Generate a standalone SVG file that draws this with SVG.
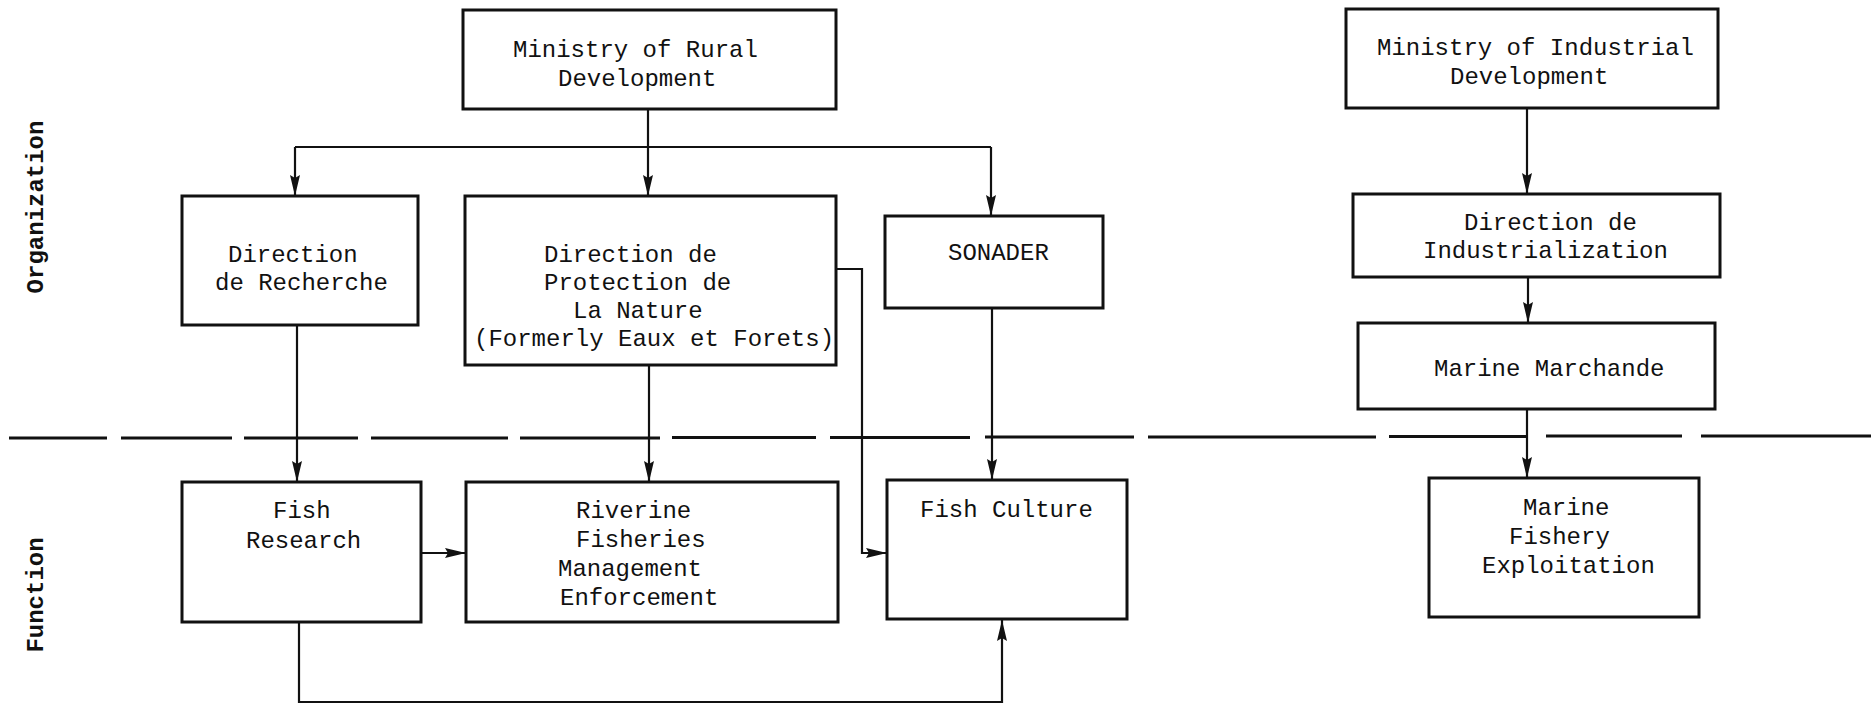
<svg xmlns="http://www.w3.org/2000/svg" width="1871" height="704" viewBox="0 0 1871 704">
  <style>
    .box { fill: #ffffff; stroke: #111111; stroke-width: 3; }
    .lbl { font-family: "Liberation Mono", "Courier New", monospace; font-size: 24px; fill: #111111; }
    .side { font-family: "Liberation Mono", "Courier New", monospace; font-size: 24px; font-weight: bold; fill: #111111; }
    .wire { fill: none; stroke: #111111; stroke-width: 2.2; }
    .dash { stroke: #111111; stroke-width: 3.2; }
  </style>
  <defs>
    <marker id="arrow" markerUnits="userSpaceOnUse" markerWidth="22" markerHeight="12" refX="21" refY="5" orient="auto">
      <path d="M0,0 L21,5 L0,10 L3,5 z" fill="#111111"/>
    </marker>
  </defs>
  <rect width="1871" height="704" fill="#ffffff"/>

  <!-- section labels -->
  <text class="side" text-anchor="middle" transform="translate(43,207) rotate(-90)">Organization</text>
  <text class="side" text-anchor="middle" transform="translate(43,595) rotate(-90)">Function</text>

  <!-- divider between organization and function -->
  <g id="divider">
    <line class="dash" x1="9" y1="438" x2="107" y2="438"/>
    <line class="dash" x1="121" y1="438" x2="232" y2="438"/>
    <line class="dash" x1="244" y1="438" x2="358" y2="438"/>
    <line class="dash" x1="371" y1="438" x2="508" y2="438"/>
    <line class="dash" x1="520" y1="438" x2="660" y2="438"/>
    <line class="dash" x1="672" y1="437.5" x2="816" y2="437.5"/>
    <line class="dash" x1="830" y1="437.5" x2="970" y2="437.5"/>
    <line class="dash" x1="985" y1="437" x2="1134" y2="437"/>
    <line class="dash" x1="1148" y1="437" x2="1376" y2="437"/>
    <line class="dash" x1="1389" y1="436.5" x2="1528" y2="436.5"/>
    <line class="dash" x1="1546" y1="436" x2="1682" y2="436"/>
    <line class="dash" x1="1701" y1="436" x2="1871" y2="436"/>
  </g>

  <!-- connectors -->
  <g id="connectors">
    <line class="wire" x1="295" y1="147" x2="991" y2="147"/>
    <polyline class="wire" points="295,147 295,196" marker-end="url(#arrow)"/>
    <polyline class="wire" points="648,109 648,196" marker-end="url(#arrow)"/>
    <polyline class="wire" points="991,147 991,216" marker-end="url(#arrow)"/>
    <polyline class="wire" points="297,325 297,482" marker-end="url(#arrow)"/>
    <polyline class="wire" points="649,365 649,482" marker-end="url(#arrow)"/>
    <polyline class="wire" points="992,308 992,480" marker-end="url(#arrow)"/>
    <polyline class="wire" points="836,269 862,269 862,553 887,553" marker-end="url(#arrow)"/>
    <polyline class="wire" points="421,553 466,553" marker-end="url(#arrow)"/>
    <polyline class="wire" points="299,622 299,702 1002,702 1002,620" marker-end="url(#arrow)"/>
    <polyline class="wire" points="1527,108 1527,194" marker-end="url(#arrow)"/>
    <polyline class="wire" points="1528,277 1528,323" marker-end="url(#arrow)"/>
    <polyline class="wire" points="1527,409 1527,478" marker-end="url(#arrow)"/>
  </g>

  <!-- organization nodes -->
  <g id="ministry-rural">
    <rect class="box" x="463" y="10" width="373" height="99"/>
    <text class="lbl" x="513" y="57">Ministry of Rural</text>
    <text class="lbl" x="558" y="86">Development</text>
  </g>
  <g id="direction-recherche">
    <rect class="box" x="182" y="196" width="236" height="129"/>
    <text class="lbl" x="228" y="262">Direction</text>
    <text class="lbl" x="215" y="290">de Recherche</text>
  </g>
  <g id="direction-protection">
    <rect class="box" x="465" y="196" width="371" height="169"/>
    <text class="lbl" x="544" y="262">Direction de</text>
    <text class="lbl" x="544" y="290">Protection de</text>
    <text class="lbl" x="573" y="318">La Nature</text>
    <text class="lbl" x="474" y="346">(Formerly Eaux et Forets)</text>
  </g>
  <g id="sonader">
    <rect class="box" x="885" y="216" width="218" height="92"/>
    <text class="lbl" x="948" y="260">SONADER</text>
  </g>
  <g id="ministry-industrial">
    <rect class="box" x="1346" y="9" width="372" height="99"/>
    <text class="lbl" x="1377" y="55">Ministry of Industrial</text>
    <text class="lbl" x="1450" y="84">Development</text>
  </g>
  <g id="direction-industrialization">
    <rect class="box" x="1353" y="194" width="367" height="83"/>
    <text class="lbl" x="1464" y="230">Direction de</text>
    <text class="lbl" x="1423" y="258">Industrialization</text>
  </g>
  <g id="marine-marchande">
    <rect class="box" x="1358" y="323" width="357" height="86"/>
    <text class="lbl" x="1434" y="376">Marine Marchande</text>
  </g>

  <!-- function nodes -->
  <g id="fish-research">
    <rect class="box" x="182" y="482" width="239" height="140"/>
    <text class="lbl" x="273" y="518">Fish</text>
    <text class="lbl" x="246" y="548">Research</text>
  </g>
  <g id="riverine-fisheries">
    <rect class="box" x="466" y="482" width="372" height="140"/>
    <text class="lbl" x="576" y="518">Riverine</text>
    <text class="lbl" x="576" y="547">Fisheries</text>
    <text class="lbl" x="558" y="576">Management</text>
    <text class="lbl" x="560" y="605">Enforcement</text>
  </g>
  <g id="fish-culture">
    <rect class="box" x="887" y="480" width="240" height="139"/>
    <text class="lbl" x="920" y="517">Fish Culture</text>
  </g>
  <g id="marine-fishery">
    <rect class="box" x="1429" y="478" width="270" height="139"/>
    <text class="lbl" x="1523" y="515">Marine</text>
    <text class="lbl" x="1509" y="544">Fishery</text>
    <text class="lbl" x="1482" y="573">Exploitation</text>
  </g>
</svg>
